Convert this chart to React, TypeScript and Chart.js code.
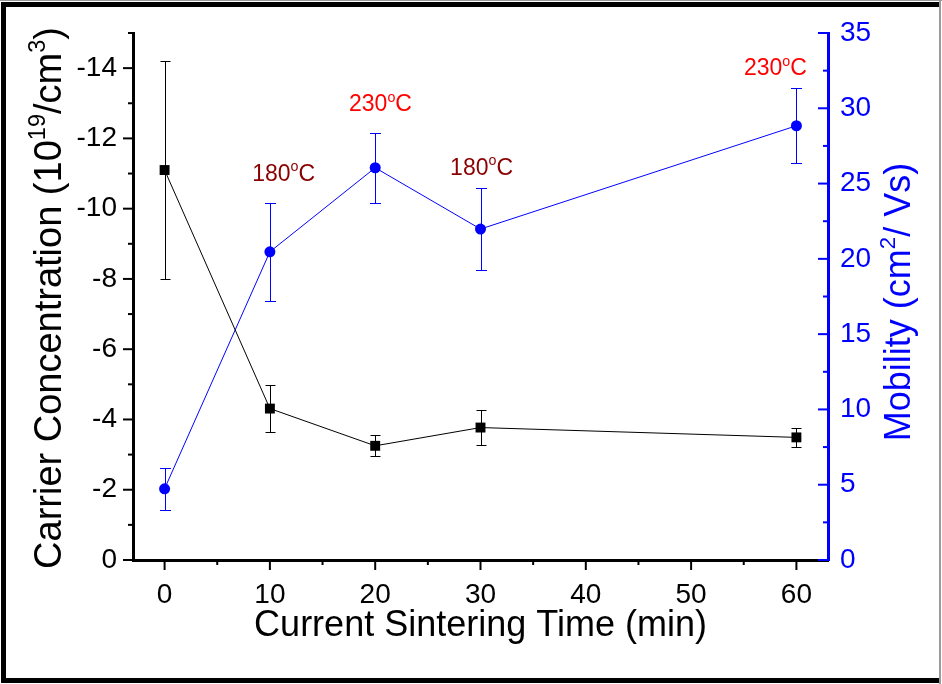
import React, { useEffect, useRef } from "react";
import { Chart, registerables } from "chart.js";
Chart.register(...registerables);

// ---- data ----
const times = [0, 10, 20, 30, 60];
const carrier = [-11.1, -4.31, -3.25, -3.77, -3.49];
const carrierErr = [3.1, 0.67, 0.3, 0.5, 0.28];
const mobility = [4.73, 20.47, 26.05, 21.98, 28.84];
const mobilityErr = [1.38, 3.25, 2.33, 2.7, 2.5];

// temperature annotations (x in minutes, y on mobility axis)
const annTexts = ["180", "230", "180", "230"];
const annColors = ["#8B0000", "#FF0000", "#8B0000", "#FF0000"];
const annX = [11.3, 20.5, 30.1, 58.0];
const annY = [25.2, 29.8, 25.6, 32.2];

const FAMILY = '"Liberation Sans", Arial, Helvetica, sans-serif';

type Seg = { t: string; sup?: boolean };

function drawRich(ctx: CanvasRenderingContext2D, segs: Seg[], x: number, y: number, size: number, color: string) {
  const supSize = size * 0.62;
  const rise = size * 0.42;
  let total = 0;
  const widths: number[] = [];
  for (const s of segs) {
    ctx.font = `${s.sup ? supSize : size}px ${FAMILY}`;
    const w = ctx.measureText(s.t).width;
    widths.push(w);
    total += w;
  }
  let cx = x - total / 2;
  ctx.fillStyle = color;
  ctx.textAlign = "left";
  ctx.textBaseline = "alphabetic";
  segs.forEach((s, i) => {
    ctx.font = `${s.sup ? supSize : size}px ${FAMILY}`;
    ctx.fillText(s.t, cx, s.sup ? y - rise : y);
    cx += widths[i];
  });
}

function drawAxisTicks(ctx: CanvasRenderingContext2D, scale: any, side: string, color: string) {
  const vals: number[] = scale.ticks.map((t: any) => t.value);
  if (vals.length < 2) return;
  const step = Math.abs(vals[1] - vals[0]);
  const lo = Math.min(scale.min, scale.max);
  const hi = Math.max(scale.min, scale.max);
  const minors: number[] = [];
  for (const v of vals) {
    for (const m of [v - step / 2, v + step / 2]) {
      if (m >= lo - 1e-9 && m <= hi + 1e-9 && !minors.some((q) => Math.abs(q - m) < 1e-9)) minors.push(m);
    }
  }
  ctx.save();
  ctx.strokeStyle = color;
  ctx.lineWidth = 2;
  const draw = (v: number, len: number) => {
    const p = scale.getPixelForValue(v);
    ctx.beginPath();
    if (side === "left") {
      ctx.moveTo(scale.right, p);
      ctx.lineTo(scale.right - len, p);
    } else if (side === "rightIn") {
      ctx.moveTo(scale.left, p);
      ctx.lineTo(scale.left - len, p);
    } else {
      ctx.moveTo(p, scale.top);
      ctx.lineTo(p, scale.top + len);
    }
    ctx.stroke();
  };
  vals.forEach((v) => draw(v, 10));
  minors.forEach((v) => draw(v, 5));
  ctx.restore();
}

const decorPlugin = {
  id: "decor",
  beforeDatasetsDraw(chart: any) {
    const ctx = chart.ctx as CanvasRenderingContext2D;
    const xs = chart.scales.x;
    const sets = [
      { scale: chart.scales.y, vals: carrier, errs: carrierErr, color: "#000000", cap: 5 },
      { scale: chart.scales.y1, vals: mobility, errs: mobilityErr, color: "#0000FF", cap: 5.5 },
    ];
    ctx.save();
    ctx.lineWidth = 1;
    for (const s of sets) {
      ctx.strokeStyle = s.color;
      times.forEach((t, i) => {
        const px = Math.round(xs.getPixelForValue(t)) + 0.5;
        const a = Math.round(s.scale.getPixelForValue(s.vals[i] - s.errs[i])) + 0.5;
        const b = Math.round(s.scale.getPixelForValue(s.vals[i] + s.errs[i])) + 0.5;
        ctx.beginPath();
        ctx.moveTo(px, a);
        ctx.lineTo(px, b);
        ctx.moveTo(px - s.cap, a);
        ctx.lineTo(px + s.cap, a);
        ctx.moveTo(px - s.cap, b);
        ctx.lineTo(px + s.cap, b);
        ctx.stroke();
      });
    }
    ctx.restore();
  },
  afterDraw(chart: any) {
    const ctx = chart.ctx as CanvasRenderingContext2D;
    const { x, y, y1 } = chart.scales;
    const area = chart.chartArea;
    drawAxisTicks(ctx, y, "left", "#000000");
    drawAxisTicks(ctx, x, "bottom", "#000000");
    drawAxisTicks(ctx, y1, "rightIn", "#0000FF");

    // annotations
    annTexts.forEach((t, i) => {
      drawRich(
        ctx,
        [{ t }, { t: "o", sup: true }, { t: "C" }],
        x.getPixelForValue(annX[i]),
        y1.getPixelForValue(annY[i]),
        23,
        annColors[i]
      );
    });

    // x title
    drawRich(ctx, [{ t: "Current Sintering Time (min)" }], (area.left + area.right) / 2, 636, 36, "#000000");

    // left title
    ctx.save();
    ctx.translate(61, 298);
    ctx.rotate(-Math.PI / 2);
    drawRich(
      ctx,
      [{ t: "Carrier Concentration (10" }, { t: "19", sup: true }, { t: "/cm" }, { t: "3", sup: true }, { t: ")" }],
      0,
      0,
      38,
      "#000000"
    );
    ctx.restore();

    // right title
    ctx.save();
    ctx.translate(910, 302);
    ctx.rotate(-Math.PI / 2);
    drawRich(ctx, [{ t: "Mobility (cm" }, { t: "2", sup: true }, { t: "/ Vs)" }], 0, 0, 36, "#0000FF");
    ctx.restore();

    // frame
    ctx.save();
    ctx.fillStyle = "#9a9a9a";
    ctx.fillRect(0, 0, 942, 1);
    ctx.fillRect(939, 0, 2, 684);
    ctx.fillStyle = "#000000";
    ctx.fillRect(1, 2, 5, 681);
    ctx.fillRect(1, 2, 938, 5);
    ctx.fillRect(1, 678, 938, 5);
    ctx.restore();
  },
};

export default function App() {
  const ref = useRef<HTMLCanvasElement | null>(null);
  useEffect(() => {
    document.body.style.margin = "0";
    const canvas = ref.current!;
    const chart = new Chart(canvas, {
      type: "line",
      data: {
        datasets: [
          {
            label: "carrier",
            data: times.map((t, i) => ({ x: t, y: carrier[i] })),
            yAxisID: "y",
            borderColor: "#000000",
            borderWidth: 1,
            pointStyle: "rect",
            pointRadius: 7,
            pointBackgroundColor: "#000000",
            pointBorderColor: "#000000",
            pointBorderWidth: 0,
            tension: 0,
          },
          {
            label: "mobility",
            data: times.map((t, i) => ({ x: t, y: mobility[i] })),
            yAxisID: "y1",
            borderColor: "#0000FF",
            borderWidth: 1,
            pointStyle: "circle",
            pointRadius: 5.5,
            pointBackgroundColor: "#0000FF",
            pointBorderColor: "#0000FF",
            pointBorderWidth: 0,
            tension: 0,
          },
        ],
      },
      options: {
        responsive: false,
        animation: false,
        devicePixelRatio: 1,
        layout: { padding: { top: 33, left: 0, right: 0, bottom: 0 } },
        plugins: { legend: { display: false }, tooltip: { enabled: false } },
        scales: {
          x: {
            type: "linear",
            position: "bottom",
            min: -3,
            max: 63,
            ticks: { stepSize: 10, includeBounds: false, color: "#000000", font: { size: 28, family: FAMILY }, padding: 18, maxRotation: 0 },
            grid: { display: false, drawTicks: false },
            border: { display: true, color: "#000000", width: 3 },
            afterFit: (s: any) => { s.height = 124; },
          },
          y: {
            type: "linear",
            position: "left",
            reverse: true,
            min: -15,
            max: 0,
            ticks: { stepSize: 2, includeBounds: false, color: "#000000", font: { size: 28, family: FAMILY }, padding: 16 },
            grid: { display: false, drawTicks: false },
            border: { display: true, color: "#000000", width: 3 },
            afterFit: (s: any) => { s.width = 133; },
          },
          y1: {
            type: "linear",
            position: "right",
            min: 0,
            max: 35,
            ticks: { stepSize: 5, includeBounds: false, color: "#0000FF", font: { size: 28, family: FAMILY }, padding: 12 },
            grid: { display: false, drawTicks: false },
            border: { display: true, color: "#0000FF", width: 3 },
            afterFit: (s: any) => { s.width = 114; },
          },
        },
      },
      plugins: [decorPlugin],
    } as any);
    return () => chart.destroy();
  }, []);
  return <canvas ref={ref} width={942} height={684} style={{ display: "block" }} />;
}
